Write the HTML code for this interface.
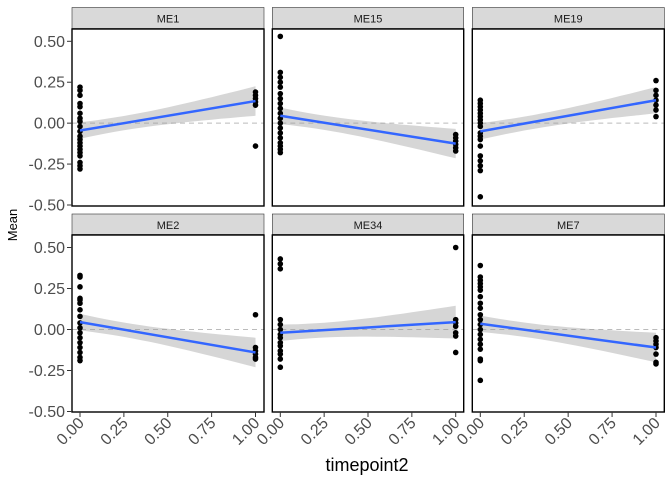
<!DOCTYPE html>
<html><head><meta charset="utf-8"><style>body{margin:0;background:#fff}svg{display:block;font-family:"Liberation Sans",sans-serif}</style></head>
<body>
<svg id="s" width="672" height="480" xmlns="http://www.w3.org/2000/svg">
<text x="367" y="471" font-size="18" text-anchor="middle" fill="#000">timepoint2</text>
<text transform="translate(17,225) rotate(-90)" font-size="13" text-anchor="middle" fill="#000">Mean</text>
</svg>
<script>
const s=document.getElementById('s');let h='';
const cols=[[72,264,80,255.5],[272.3,463.7,280.3,455.7],[472.3,664.3,480.3,656]];
const rows=[{st:7.5,pt:29,pb:206,y5:41.3,yn:205},{st:214,pt:235,pb:412,y5:247.5,yn:411.5}];
const P=[
['ME1',0,0,[0.22,0.2,0.17,0.12,0.1,0.06,0.03,0.01,-0.02,-0.05,-0.08,-0.1,-0.12,-0.14,-0.16,-0.18,-0.2,-0.24,-0.26,-0.28],[0.19,0.17,0.15,0.13,0.11,-0.14],-0.045,0.135,0.05,0.09],
['ME15',0,1,[0.53,0.31,0.28,0.25,0.22,0.18,0.15,0.12,0.09,0.06,0.03,0,-0.03,-0.06,-0.09,-0.12,-0.14,-0.16,-0.18],[-0.07,-0.09,-0.11,-0.13,-0.15,-0.17],0.045,-0.125,0.05,0.09],
['ME19',0,2,[0.14,0.12,0.1,0.08,0.06,0.04,0.02,0,-0.02,-0.06,-0.08,-0.1,-0.14,-0.2,-0.23,-0.26,-0.29,-0.45],[0.26,0.2,0.17,0.14,0.11,0.08,0.04],-0.05,0.14,0.05,0.08],
['ME2',1,0,[0.33,0.32,0.26,0.19,0.18,0.16,0.12,0.08,0.04,0.01,-0.02,-0.05,-0.08,-0.11,-0.14,-0.17,-0.19],[0.09,-0.11,-0.13,-0.15,-0.17,-0.18],0.045,-0.14,0.05,0.09],
['ME34',1,1,[0.43,0.4,0.37,0.06,0.03,0,-0.03,-0.05,-0.08,-0.1,-0.13,-0.15,-0.18,-0.23],[0.5,0.06,0.04,0.02,-0.02,-0.04,-0.14],-0.02,0.045,0.05,0.1],
['ME7',1,2,[0.39,0.32,0.3,0.28,0.26,0.24,0.2,0.16,0.13,0.09,0.06,0.03,0,-0.03,-0.06,-0.09,-0.12,-0.18,-0.19,-0.31],[-0.05,-0.07,-0.09,-0.11,-0.15,-0.2,-0.21],0.035,-0.11,0.05,0.09]];
for(const [name,r,c,a,b,l0,l1,s0,s1] of P){
 const R=rows[r],C=cols[c];
 const Y=v=>R.y5+(0.5-v)*(R.yn-R.y5);const X=t=>C[2]+t*(C[3]-C[2]);
 h+=`<rect x="${C[0]}" y="${R.st}" width="${C[1]-C[0]}" height="${R.pt-R.st-0.5}" fill="#d9d9d9" stroke="#333" stroke-width="0.6"/>`;
 h+=`<text x="${(C[0]+C[1])/2}" y="${R.st+15}" font-size="11" text-anchor="middle" fill="#1a1a1a">${name}</text>`;
 h+=`<line x1="${C[0]}" x2="${C[1]}" y1="${Y(0)}" y2="${Y(0)}" stroke="#bbb" stroke-dasharray="5,4" stroke-width="1"/>`;
 let up=[],dn=[];
 for(let i=0;i<=20;i++){const t=i/20,m=l0+(l1-l0)*t,se=Math.sqrt(((1-t)*s0)**2+(t*s1)**2);up.push(X(t).toFixed(1)+','+Y(m+se).toFixed(1));dn.unshift(X(t).toFixed(1)+','+Y(m-se).toFixed(1));}
 h+=`<polygon points="${up.concat(dn).join(' ')}" fill="#999" fill-opacity="0.4"/>`;
 for(const v of a)h+=`<circle cx="${X(0)}" cy="${Y(v)}" r="2.8"/>`;
 for(const v of b)h+=`<circle cx="${X(1)}" cy="${Y(v)}" r="2.8"/>`;
 h+=`<line x1="${X(0)}" y1="${Y(l0)}" x2="${X(1)}" y2="${Y(l1)}" stroke="#3366FF" stroke-width="2.5"/>`;
 h+=`<rect x="${C[0]}" y="${R.pt}" width="${C[1]-C[0]}" height="${R.pb-R.pt}" fill="none" stroke="#000" stroke-width="1.4"/>`;
 if(c==0){for(const v of [0.5,0.25,0,-0.25,-0.5]){const y=Y(v);h+=`<line x1="67" x2="72" y1="${y}" y2="${y}" stroke="#333"/><text x="65" y="${y+5.5}" font-size="16" text-anchor="end" fill="#4d4d4d">${v.toFixed(2)}</text>`;}}
 if(r==1){for(const t of [0,0.25,0.5,0.75,1]){const x=X(t);h+=`<line x1="${x}" x2="${x}" y1="412" y2="417" stroke="#333"/><text transform="translate(${x+5},${424}) rotate(-45)" font-size="16" text-anchor="end" fill="#4d4d4d">${t.toFixed(2)}</text>`;}}
}
s.insertAdjacentHTML('beforeend',h);
</script>
</body></html>
